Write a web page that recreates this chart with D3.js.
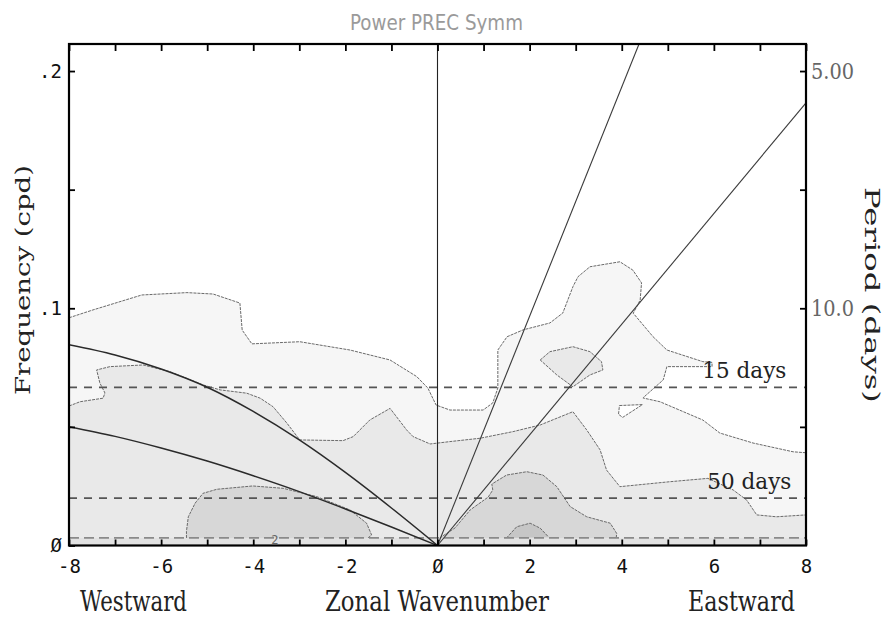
<!DOCTYPE html>
<html>
<head>
<meta charset="utf-8">
<script src="https://cdn.jsdelivr.net/npm/d3@7"></script>
<style>
  body { margin: 0; background: #fff; }
  svg { display: block; }
  .tick text.mono { font-family: "DejaVu Sans Mono", monospace; font-size: 19px; }
</style>
</head>
<body>
<svg id="chart" width="884" height="619"></svg>
<script>
// ---- data ----
const xTickValues = [-8, -7, -6, -5, -4, -3, -2, -1, 0, 1, 2, 3, 4, 5, 6, 7, 8];
const xLabelValues = [-8, -6, -4, -2, 0, 2, 4, 6, 8];
const xLabelText = ['-8', '-6', '-4', '-2', 'Ø', '2', '4', '6', '8'];
const yTickValues = [0, 0.05, 0.1, 0.15, 0.2];
const yLabelText = ['Ø', '', '.1', '', '.2'];
const periodTicks = [20, 10, 6.667, 5];        // days, right axis
const periodLabelText = ['', '10.0', '', '5.00'];
const dayLines = [15, 50];                      // dashed period lines (days)
const dayLabels = ['15 days', '50 days'];

// dispersion curves [wavenumber, cpd]
const kelvin12 = [[0, 0], [8, 0.1866]];
const kelvin50 = [[0, 0], [4.375, 0.2114]];
const erWavenumbers = [-8, -7, -6, -5, -4, -3, -2, -1, 0];
const er50 = [0.0846, 0.0803, 0.0744, 0.0667, 0.0565, 0.0445, 0.0308, 0.0158, 0];
const er12 = [0.0501, 0.0460, 0.0411, 0.0356, 0.0294, 0.0227, 0.0154, 0.0078, 0];

// contour outlines [wavenumber, cpd]
const level1Edge = [[-8, 0.0960], [-7.48, 0.0993], [-6.42, 0.1056], [-5.44, 0.1066], [-4.87, 0.1060],
  [-4.29, 0.1022], [-4.24, 0.0908], [-4.03, 0.0850], [-2.99, 0.0859], [-1.90, 0.0824], [-1.03, 0.0782],
  [-0.45, 0.0712], [-0.21, 0.0664], [-0.03, 0.0592], [0.27, 0.0571], [0.99, 0.0571], [1.20, 0.0601],
  [1.31, 0.0664], [1.31, 0.0824], [1.51, 0.0880], [1.86, 0.0909], [2.44, 0.0938], [2.72, 0.0980],
  [2.94, 0.1091], [3.05, 0.1133], [3.31, 0.1175], [3.96, 0.1196], [4.24, 0.1161], [4.43, 0.1107],
  [4.40, 0.1035], [4.25, 0.0979], [4.68, 0.0880], [4.98, 0.0824], [5.76, 0.0775], [5.96, 0.0772],
  [5.96, 0.0754], [4.98, 0.0754], [4.90, 0.0698], [4.46, 0.0622], [4.83, 0.0606], [5.76, 0.0529],
  [6.13, 0.0474], [6.85, 0.0432], [7.72, 0.0395], [8, 0.0391]];
const level1Hole = [[3.95, 0.0590], [4.45, 0.0594], [4.02, 0.0540], [3.93, 0.0553]];
const level2Edge = [[-8, 0.0588], [-7.76, 0.0606], [-7.26, 0.0621], [-7.22, 0.0643], [-7.33, 0.0685],
  [-7.40, 0.0740], [-7.11, 0.0754], [-6.39, 0.0761], [-5.81, 0.0733], [-5.09, 0.0677], [-4.72, 0.0656],
  [-4.14, 0.0642], [-3.85, 0.0621], [-3.57, 0.0585], [-3.27, 0.0516], [-2.99, 0.0445], [-2.05, 0.0442],
  [-1.83, 0.0459], [-1.47, 0.0529], [-1.03, 0.0578], [-0.67, 0.0487], [-0.53, 0.0459], [-0.16, 0.0428],
  [0.27, 0.0438], [0.92, 0.0452], [1.64, 0.0480], [2.23, 0.0508], [2.94, 0.0564], [3.24, 0.0487],
  [3.53, 0.0403], [3.67, 0.0318], [3.96, 0.0248], [5.05, 0.0269], [5.87, 0.0283], [6.42, 0.0234],
  [6.71, 0.0192], [6.93, 0.0129], [7.36, 0.0121], [8, 0.0129]];
const level2Blob = [[2.23, 0.0782], [2.44, 0.0817], [2.94, 0.0838], [3.31, 0.0817], [3.56, 0.0775],
  [3.59, 0.0740], [3.31, 0.0719], [2.94, 0.0669], [2.59, 0.0719], [2.23, 0.0782]];
const level3West = [[-5.45, 0.0032], [-5.45, 0.0060], [-5.41, 0.0121], [-5.26, 0.0179], [-5.09, 0.0220],
  [-4.79, 0.0237], [-4.01, 0.0251], [-3.35, 0.0241], [-2.62, 0.0206], [-1.90, 0.0150], [-1.54, 0.0094],
  [-1.43, 0.0044], [-1.51, 0.0032]];
const level3East = [[0.05, 0.0032], [0.38, 0.0074], [0.71, 0.0150], [1.10, 0.0204], [1.20, 0.0234],
  [1.18, 0.0259], [1.50, 0.0297], [1.94, 0.0311], [2.29, 0.0297], [2.59, 0.0248], [2.88, 0.0164],
  [3.24, 0.0121], [3.75, 0.0094], [3.89, 0.0051], [3.88, 0.0032]];
const level4Blob = [[1.50, 0.0032], [1.72, 0.0079], [2.01, 0.0094], [2.23, 0.0073], [2.41, 0.0036]];
const lowFreqEdge = 0.0032;

const fills = { l1: '#f6f6f6', l2: '#e9e9e9', l3: '#d7d7d7', l4: '#c6c6c6', strip: '#e2e2e2' };

// ---- layout ----
const margin = { top: 44, right: 78, bottom: 73.5, left: 69 };
const W = 884, H = 619;
const x = d3.scaleLinear().domain([-8, 8]).range([margin.left, W - margin.right]);
const y = d3.scaleLinear().domain([0, 0.2114]).range([H - margin.bottom, margin.top]);

const svg = d3.select('#chart');
svg.append('defs').append('clipPath').attr('id', 'plot')
  .append('rect')
  .attr('x', x(-8)).attr('y', y(0.2114))
  .attr('width', x(8) - x(-8)).attr('height', y(0) - y(0.2114));

const g = svg.append('g').attr('clip-path', 'url(#plot)');
const line = d3.line().x((d) => x(d[0])).y((d) => y(d[1]));
const smooth = d3.line().x((d) => x(d[0])).y((d) => y(d[1])).curve(d3.curveMonotoneX);

// filled contour levels
const closedL1 = level1Edge.concat([[8, 0], [-8, 0]]);
const closedL2 = level2Edge.concat([[8, 0], [-8, 0]]);
g.append('path').attr('d', line(closedL1) + 'Z').attr('fill', fills.l1);
g.append('path').attr('d', line(level1Hole) + 'Z').attr('fill', '#fff');
g.append('path').attr('d', line(closedL2) + 'Z').attr('fill', fills.l2);
g.append('path').attr('d', line(level2Blob) + 'Z').attr('fill', fills.l2);
[level3West, level3East].forEach((c) => {
  g.append('path').attr('d', line(c) + 'Z').attr('fill', fills.l3);
});
g.append('path').attr('d', line(level4Blob) + 'Z').attr('fill', fills.l4);
g.append('rect')
  .attr('x', x(-8)).attr('y', y(lowFreqEdge))
  .attr('width', x(8) - x(-8)).attr('height', y(0) - y(lowFreqEdge))
  .attr('fill', fills.strip);

// contour outlines
const contourStyle = (sel) => sel.attr('fill', 'none').attr('stroke', '#6a6a6a')
  .attr('stroke-width', 1).attr('stroke-dasharray', '3,1');
[level1Edge, level2Edge].forEach((c) => g.append('path').attr('d', line(c)).call(contourStyle));
[level1Hole, level2Blob].forEach((c) => g.append('path').attr('d', line(c) + 'Z').call(contourStyle));
[level3West, level3East, level4Blob].forEach((c) => g.append('path').attr('d', line(c)).call(contourStyle));
g.append('line')
  .attr('x1', x(-8)).attr('x2', x(8))
  .attr('y1', y(lowFreqEdge)).attr('y2', y(lowFreqEdge))
  .attr('stroke', '#8a8a8a').attr('stroke-width', 1.6).attr('stroke-dasharray', '10,5');
g.append('text')
  .attr('x', x(-3.53)).attr('y', y(0.0005))
  .attr('text-anchor', 'middle')
  .attr('font-family', 'DejaVu Sans Mono').attr('font-size', 12).attr('fill', '#666')
  .text('2');

// dashed period lines
dayLines.forEach((p, i) => {
  g.append('line')
    .attr('x1', x(-8)).attr('x2', x(8))
    .attr('y1', y(1 / p)).attr('y2', y(1 / p))
    .attr('stroke', '#555').attr('stroke-width', 1.8).attr('stroke-dasharray', '8,7');
  svg.append('text')
    .attr('x', x(5.75) + i * 5).attr('y', y(1 / p) - 9.5)
    .attr('font-family', 'DejaVu Serif').attr('font-size', 22).attr('fill', '#222')
    .attr('textLength', 84).attr('lengthAdjust', 'spacingAndGlyphs')
    .text(dayLabels[i]);
});

// dispersion curves
[kelvin12, kelvin50].forEach((c) => {
  g.append('path').attr('d', line(c)).attr('fill', 'none').attr('stroke', '#3a3a3a').attr('stroke-width', 1.1);
});
[er50, er12].forEach((vals) => {
  const pts = erWavenumbers.map((k, i) => [k, vals[i]]);
  g.append('path').attr('d', smooth(pts)).attr('fill', 'none').attr('stroke', '#2a2a2a').attr('stroke-width', 1.5);
});
g.append('line')
  .attr('x1', x(0)).attr('x2', x(0)).attr('y1', y(0)).attr('y2', y(0.2114))
  .attr('stroke', '#222').attr('stroke-width', 1.1);

// ---- axes ----
const tickFont = (sel) => sel.selectAll('.tick text')
  .attr('class', 'mono').attr('fill', '#111');

const axisB = svg.append('g').attr('transform', `translate(0,${y(0)})`)
  .call(d3.axisBottom(x).tickValues(xTickValues).tickSizeInner(-6).tickSizeOuter(0).tickPadding(14)
    .tickFormat((d) => {
      const i = xLabelValues.indexOf(d);
      return i === -1 ? '' : xLabelText[i];
    }));
axisB.call(tickFont);

const axisT = svg.append('g').attr('transform', `translate(0,${y(0.2114)})`)
  .call(d3.axisTop(x).tickValues(xTickValues).tickSizeInner(-7).tickSizeOuter(0).tickFormat(''));

const axisL = svg.append('g').attr('transform', `translate(${x(-8)},0)`)
  .call(d3.axisLeft(y).tickValues(yTickValues).tickSizeInner(-6).tickSizeOuter(0).tickPadding(7)
    .tickFormat((d, i) => yLabelText[i]));
axisL.call(tickFont);

const axisR = svg.append('g').attr('transform', `translate(${x(8)},0)`)
  .call(d3.axisRight(y).tickValues(periodTicks.map((p) => 1 / p)).tickSizeInner(-6).tickSizeOuter(0)
    .tickPadding(5).tickFormat((d, i) => periodLabelText[i]));
axisR.selectAll('.tick text')
  .style('font-family', '"DejaVu Serif", serif').style('font-size', '22px').attr('fill', '#666')
  .attr('textLength', (d, i) => (periodLabelText[i] ? 43 : null))
  .attr('lengthAdjust', 'spacingAndGlyphs');

[axisB, axisT, axisL, axisR].forEach((a) => {
  a.select('.domain').remove();
  a.selectAll('.tick line').attr('stroke', '#000').attr('stroke-width', 1.8);
});

// frame
svg.append('rect')
  .attr('x', x(-8)).attr('y', y(0.2114))
  .attr('width', x(8) - x(-8)).attr('height', y(0) - y(0.2114))
  .attr('fill', 'none').attr('stroke', '#000').attr('stroke-width', 2.2);

// ---- titles ----
svg.append('text')
  .attr('x', 350).attr('y', 30)
  .attr('font-family', 'DejaVu Sans').attr('font-size', 22).attr('fill', '#9a9a9a')
  .attr('textLength', 173).attr('lengthAdjust', 'spacingAndGlyphs')
  .text('Power PREC Symm');

const serifLabel = (txt, xs, ys, len, size) => svg.append('text')
  .attr('x', xs).attr('y', ys)
  .attr('font-family', 'DejaVu Serif').attr('font-size', size).attr('fill', '#222')
  .attr('textLength', len).attr('lengthAdjust', 'spacingAndGlyphs')
  .text(txt);

serifLabel('Westward', 80, 611, 107, 27);
serifLabel('Zonal Wavenumber', 325, 611, 224, 27);
serifLabel('Eastward', 688, 611, 107, 27);

serifLabel('Frequency (cpd)', 0, 0, 230, 21)
  .attr('transform', 'translate(30,395) rotate(-90)');
serifLabel('Period (days)', 0, 0, 216, 21)
  .attr('transform', 'translate(865,187) rotate(90)');
</script>
</body>
</html>
